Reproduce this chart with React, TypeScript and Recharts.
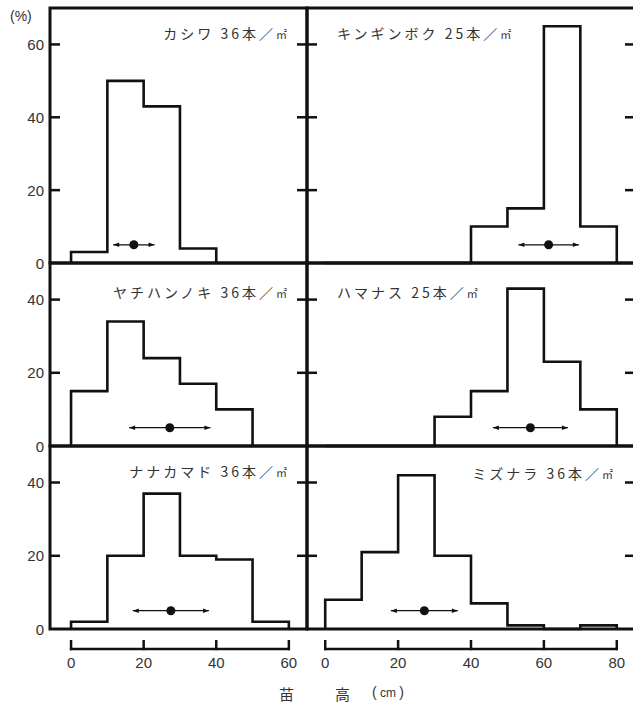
import React from "react";
import {
  ComposedChart,
  Line,
  Scatter,
  XAxis,
  YAxis,
  ReferenceLine,
  ReferenceDot,
  ReferenceArea,
} from "recharts";

// species, in reading order (row by row, left then right)
const speciesNames = ["カシワ", "キンギンボク", "ヤチハンノキ", "ハマナス", "ナナカマド", "ミズナラ"];
const densities = [36, 25, 36, 25, 36, 36];

// % of seedlings in each 10 cm height class, first class = 0-10 cm
const kashiwaPct = [3, 50, 43, 4];
const kinginbokuPct = [0, 0, 0, 0, 10, 15, 65, 10];
const yachihannokiPct = [15, 34, 24, 17, 10];
const hamanasuPct = [0, 0, 0, 8, 15, 43, 23, 10];
const nanakamadoPct = [2, 20, 37, 20, 19, 2];
const mizunaraPct = [8, 21, 42, 20, 7, 1, 0, 1];

// mean height and spread (cm), drawn as a dot with arrows
const meanHeights = [17.3, 61.3, 27.2, 56.3, 27.5, 27.2];
const spreadHeights = [5.7, 8.3, 11.2, 10.3, 10.5, 9.2];
const markerLevel = 5;

const leftXTicks = [0, 20, 40, 60];
const rightXTicks = [0, 20, 40, 60, 80];
const topYTicks = [0, 20, 40, 60];
const lowerYTicks = [0, 20, 40];

const allPct = [kashiwaPct, kinginbokuPct, yachihannokiPct, hamanasuPct, nanakamadoPct, mizunaraPct];

// layout of the 3x2 grid (page pixels)
const COL_X = [50, 307];
const COL_W = [257, 328];
const ROW_Y = [8, 263, 446];
const ROW_H = [255, 183, 183];
const X_DOMAINS: [number, number][] = [
  [-5.8, 65],
  [-5, 85],
];
const Y_MAX = [70, 50, 50];
const BRACKET_DROP = 20; // px below the lowest panel

const INK = "#111";
const TEXT = "#333";
const NUM_FONT = "'Liberation Sans', Arial, sans-serif";
const JP_FONT = "'Noto Sans CJK JP', sans-serif";

function toSteps(pct: number[]) {
  const pts = [{ x: 0, y: 0 }];
  pct.forEach((v, i) => pts.push({ x: i * 10, y: v }));
  pts.push({ x: pct.length * 10, y: 0 });
  return pts;
}

const ArrowSpan = (props: any) => {
  const { x1, y1, x2, y2 } = props;
  const a = 6;
  const hw = 2.3;
  return (
    <g>
      <path d={`M${x1},${y1}L${x2},${y2}`} stroke={INK} strokeWidth={1.3} fill="none" />
      <path d={`M${x1},${y1}L${x1 + a},${y1 - hw}L${x1 + a},${y1 + hw}Z`} fill={INK} />
      <path d={`M${x2},${y2}L${x2 - a},${y2 - hw}L${x2 - a},${y2 + hw}Z`} fill={INK} />
    </g>
  );
};

// inward tick mark on the frame, as a small filled bar
const StubShape = (props: any) => {
  const { cx, cy, payload } = props;
  if (cx == null || cy == null) return <g />;
  const dir = payload && payload.dir < 0 ? -1 : 1;
  const x0 = dir > 0 ? cx : cx - 10;
  return <path d={`M${x0},${cy - 1.25}h10v2.5h-10Z`} fill={INK} stroke="none" />;
};

// the separate height scale under the bottom panels
const BracketLine = (props: any) => {
  const { x1, y1, x2, y2 } = props;
  return (
    <path
      d={`M${x1 - 1.2},${y1 + BRACKET_DROP}L${x2 + 1.2},${y2 + BRACKET_DROP}`}
      stroke={INK}
      strokeWidth={2.5}
      fill="none"
    />
  );
};

const BracketTick = (props: any) => {
  const { cx, cy } = props;
  return (
    <path
      d={`M${cx},${cy + BRACKET_DROP - 9}L${cx},${cy + BRACKET_DROP + 1.2}`}
      stroke={INK}
      strokeWidth={2.5}
      fill="none"
    />
  );
};

const YLabel = (props: any) => {
  const { x, y, payload } = props;
  return (
    <text
      x={x - 6}
      y={y}
      textAnchor="end"
      dominantBaseline="central"
      fill={TEXT}
      fontSize={15}
      fontFamily={NUM_FONT}
    >
      {payload.value}
    </text>
  );
};

const XLabel = (props: any) => {
  const { x, y, payload } = props;
  return (
    <text
      x={x}
      y={y + BRACKET_DROP + 8}
      dy="0.71em"
      textAnchor="middle"
      fill={TEXT}
      fontSize={15}
      fontFamily={NUM_FONT}
    >
      {payload.value}
    </text>
  );
};

function Panel({ idx }: { idx: number }) {
  const row = Math.floor(idx / 2);
  const col = idx % 2;
  const bottomRow = row === 2;
  const yw = col === 0 ? 50 : 0;
  const ml = col === 0 ? 0 : 4;
  const mt = 12;
  const mb = bottomRow ? 0 : 12;
  const xh = bottomRow ? 50 : 0;
  const mr = 4;
  const width = COL_W[col] + yw + ml + mr;
  const height = ROW_H[row] + mt + mb + xh;
  const yTicks = row === 0 ? topYTicks : lowerYTicks;
  const xTicks = col === 0 ? leftXTicks : rightXTicks;
  const domainX = X_DOMAINS[col];
  const domainY = [0, Y_MAX[row]];
  const mean = meanHeights[idx];
  const spread = spreadHeights[idx];
  const stubs = yTicks
    .filter((t) => t > 0)
    .flatMap((t) => [
      { x: domainX[0], y: t, dir: 1 },
      { x: domainX[1], y: t, dir: -1 },
    ]);

  return (
    <div style={{ position: "absolute", left: COL_X[col] - yw - ml, top: ROW_Y[row] - mt }}>
      <ComposedChart
        width={width}
        height={height}
        data={toSteps(allPct[idx])}
        margin={{ top: mt, right: mr, bottom: mb, left: ml }}
      >
        <XAxis
          dataKey="x"
          type="number"
          domain={domainX}
          allowDataOverflow
          hide={!bottomRow}
          height={xh}
          ticks={xTicks}
          interval={0}
          tickSize={0}
          tickMargin={0}
          axisLine={false}
          tickLine={false}
          tick={XLabel}
        />
        <YAxis
          type="number"
          domain={domainY}
          ticks={yTicks}
          interval={0}
          hide={col !== 0}
          width={yw}
          tickSize={0}
          tickMargin={0}
          axisLine={false}
          tickLine={false}
          tick={YLabel}
        />
        <ReferenceArea
          x1={domainX[0]}
          x2={domainX[1]}
          y1={domainY[0]}
          y2={domainY[1]}
          ifOverflow="visible"
          fill="none"
          fillOpacity={0}
          stroke={INK}
          strokeWidth={3}
          strokeOpacity={1}
        />
        {bottomRow && (
          <ReferenceLine
            segment={[
              { x: xTicks[0], y: 0 },
              { x: xTicks[xTicks.length - 1], y: 0 },
            ]}
            ifOverflow="visible"
            shape={BracketLine}
          />
        )}
        {bottomRow &&
          xTicks.map((t) => (
            <ReferenceDot key={`xt${t}`} x={t} y={0} ifOverflow="visible" shape={BracketTick} />
          ))}
        <Line
          type="stepAfter"
          dataKey="y"
          stroke={INK}
          strokeWidth={2.6}
          dot={false}
          isAnimationActive={false}
        />
        <Scatter data={stubs} dataKey="y" shape={StubShape} isAnimationActive={false} />
        <ReferenceLine
          segment={[
            { x: mean - spread, y: markerLevel },
            { x: mean + spread, y: markerLevel },
          ]}
          shape={ArrowSpan}
        />
        <ReferenceDot x={mean} y={markerLevel} r={4.5} fill={INK} stroke="none" />
      </ComposedChart>
    </div>
  );
}

const titleStyle: React.CSSProperties = {
  position: "absolute",
  fontFamily: JP_FONT,
  fontSize: 14,
  letterSpacing: 3,
  color: TEXT,
  whiteSpace: "nowrap",
  lineHeight: "16px",
};

// title anchors: [x, centre y, align]
const TITLE_POS: [number, number, "left" | "right"][] = [
  [287, 33, "right"],
  [337, 33, "left"],
  [287, 292, "right"],
  [337, 292, "left"],
  [287, 471, "right"],
  [613, 473, "right"],
];

function Title({ idx }: { idx: number }) {
  const [x, y, align] = TITLE_POS[idx];
  const pos: React.CSSProperties =
    align === "left" ? { left: x, top: y - 8 } : { right: 633 - x, top: y - 8 };
  return (
    <div style={{ ...titleStyle, ...pos }}>
      {speciesNames[idx]} {densities[idx]}本／<span style={{ fontSize: 11, letterSpacing: 0 }}>㎡</span>
    </div>
  );
}

export default function App() {
  return (
    <div
      style={{
        position: "absolute",
        left: 0,
        top: 0,
        width: 633,
        height: 707,
        overflow: "hidden",
        background: "#fff",
      }}
    >
      {[0, 1, 2, 3, 4, 5].map((i) => (
        <Panel key={i} idx={i} />
      ))}
      {[0, 1, 2, 3, 4, 5].map((i) => (
        <Title key={`t${i}`} idx={i} />
      ))}
      <div
        style={{
          position: "absolute",
          left: 10,
          top: 8,
          fontFamily: NUM_FONT,
          fontSize: 14,
          color: TEXT,
        }}
      >
        (%)
      </div>
      <div style={{ position: "absolute", left: 279, top: 683, fontFamily: JP_FONT, fontSize: 15, color: TEXT }}>
        苗
      </div>
      <div style={{ position: "absolute", left: 335, top: 683, fontFamily: JP_FONT, fontSize: 15, color: TEXT }}>
        高
      </div>
      <div style={{ position: "absolute", left: 372, top: 684, fontFamily: NUM_FONT, fontSize: 14, color: TEXT }}>
        (<span style={{ fontSize: 12 }}> cm </span>)
      </div>
    </div>
  );
}
